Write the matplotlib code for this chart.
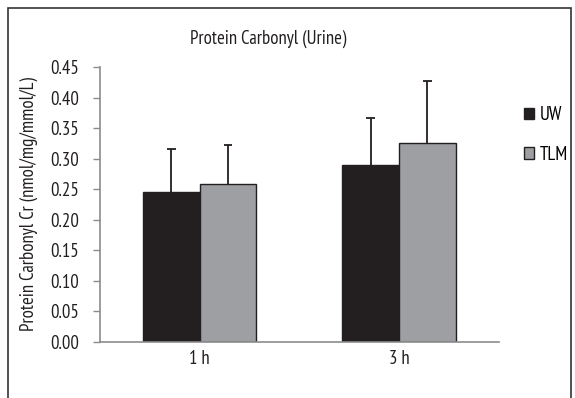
import matplotlib
matplotlib.use("Agg")
import matplotlib.pyplot as plt
import numpy as np
from matplotlib.patches import Rectangle

plt.rcParams['font.family'] = ['PT Sans Narrow', 'DejaVu Sans']

times = ['1 h', '3 h']
uw_mean = [0.245, 0.289]
uw_err = [0.070, 0.077]
tlm_mean = [0.259, 0.325]
tlm_err = [0.063, 0.102]
yticks = [0.00, 0.05, 0.10, 0.15, 0.20, 0.25, 0.30, 0.35, 0.40, 0.45]

dark = '#231f20'
grey = '#9d9fa2'
axis_col = '#8c8c8c'
fs = 13.5

fig = plt.figure(figsize=(5.75, 3.98), dpi=100)
ax = fig.add_axes([0.1739, 0.1407, 0.8673 - 0.1739, 0.8317 - 0.1407])

x = np.arange(len(times))
w = 0.285
ax.bar(x - w / 2, uw_mean, w, color=dark, edgecolor=dark, linewidth=1, label='UW', zorder=2)
ax.bar(x + w / 2, tlm_mean, w, color=grey, edgecolor=dark, linewidth=1, label='TLM', zorder=2)

# upper error bars only, sitting on top of each bar
cap = 0.022
for xs, m, e in [(x - w / 2, uw_mean, uw_err), (x + w / 2, tlm_mean, tlm_err)]:
    tops = np.array(m) + np.array(e)
    ax.vlines(xs, m, tops, color=dark, linewidth=1.3, zorder=1)
    ax.hlines(tops, xs - cap, xs + cap, color=dark, linewidth=1.3, zorder=1)

ax.set_xlim(-0.5, 1.5)
ax.set_ylim(0, 0.45)
ax.set_yticks(yticks)
ax.set_yticklabels([f'{v:.2f}' for v in yticks])
ax.set_xticks(x)
ax.set_xticklabels(times)
ax.tick_params(axis='y', length=5, width=1, color=axis_col, labelsize=fs, pad=10, labelcolor=dark)
ax.tick_params(axis='x', length=0, labelsize=fs, pad=6, labelcolor=dark)
for s in ['top', 'right']:
    ax.spines[s].set_visible(False)
for s in ['left', 'bottom']:
    ax.spines[s].set_color(axis_col)
    ax.spines[s].set_linewidth(1.2)

ax.set_ylabel('Protein Carbonyl Cr (nmol/mg/mmol/L)', fontsize=fs, color=dark, labelpad=9)
fig.text(0.467, 0.902, 'Protein Carbonyl (Urine)', ha='center', va='center', fontsize=fs, color=dark)

# legend squares on the right
leg = fig.legend(loc='upper left', bbox_to_anchor=(524 / 575, 1 - 106 / 398), frameon=False,
                 fontsize=fs, handlelength=0.55, handleheight=0.55, handletextpad=0.3,
                 labelspacing=1.15, borderpad=0, borderaxespad=0)

# outer frame of the figure
fig.patches.append(Rectangle((8 / 575, -0.01), (571 - 8) / 575, 1 - 8 / 398 + 0.01,
                             transform=fig.transFigure, fill=False, edgecolor='#333333',
                             linewidth=1.2))

fig.savefig('out.png', dpi=100)
